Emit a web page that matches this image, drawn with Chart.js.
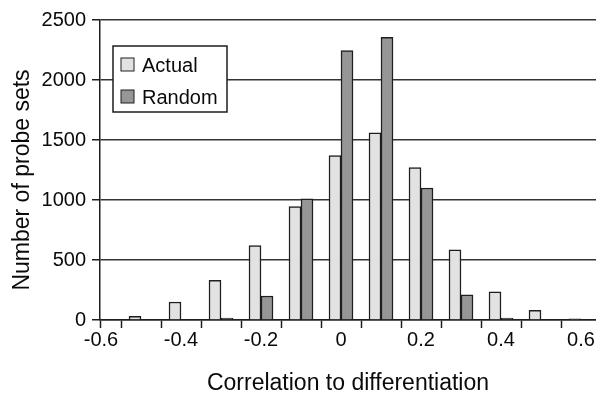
<!DOCTYPE html>
<html lang="en">
<head>
  <meta charset="UTF-8">
  <title>Correlation to differentiation</title>
  <script src="https://cdn.jsdelivr.net/npm/chart.js"></script>
  <style>
    body { margin: 0; background: #fff; }
    #wrap { width: 596px; height: 393px; position: relative; }
  </style>
</head>
<body>
  <div id="wrap"><canvas id="histChart"></canvas></div>

  <script>
    // bin centres on the correlation axis
    const bins = [-0.5, -0.4, -0.3, -0.2, -0.1, 0, 0.1, 0.2, 0.3, 0.4, 0.5, 0.6];
    // number of probe sets per bin
    const actual = [30, 150, 330, 620, 945, 1370, 1560, 1270, 585, 235, 80, 10];
    const random = [0, 0, 15, 200, 1010, 2245, 2355, 1100, 210, 15, 0, 0];
    // labelled x values and the small tick marks between bins
    const xLabels = [-0.6, -0.4, -0.2, 0, 0.2, 0.4, 0.6];
    const binEdges = [-0.55, -0.45, -0.35, -0.25, -0.15, -0.05, 0.05, 0.15, 0.25, 0.35, 0.45, 0.55];
    const yTicks = [0, 500, 1000, 1500, 2000, 2500];

    const xMin = -0.6025, xMax = 0.6375;
    const FONT = '"Liberation Sans", Arial, Helvetica, sans-serif';
    const INK = '#1e1e1e';
    const TEXT = '#0a0a0a';
    const yTitle = 'Number of probe sets';

    const isLabel = v => xLabels.some(l => Math.abs(l - v) < 1e-6);
    const fmt = v => Math.abs(v) < 1e-9 ? '0' : v.toFixed(1);

    // legend drawn inside the plot, boxed like the original
    const boxLegend = {
      id: 'boxLegend',
      afterDraw(chart) {
        const { ctx, chartArea } = chart;
        const x = chartArea.left + 13, y = chartArea.top + 26, w = 114, h = 66;
        ctx.save();
        ctx.fillStyle = '#fff';
        ctx.fillRect(x, y, w, h);
        ctx.strokeStyle = INK;
        ctx.lineWidth = 1.5;
        ctx.strokeRect(x, y, w, h);
        ctx.font = '20px ' + FONT;
        ctx.textBaseline = 'alphabetic';
        chart.data.datasets.forEach((ds, i) => {
          const rowY = y + 12 + i * 32;
          ctx.fillStyle = ds.backgroundColor;
          ctx.fillRect(x + 8, rowY, 13, 13);
          ctx.lineWidth = 1;
          ctx.strokeRect(x + 8, rowY, 13, 13);
          ctx.fillStyle = TEXT;
          ctx.fillText(ds.label, x + 29, rowY + 14);
        });

        // y axis title, sitting a little below the plot centre as in the original
        ctx.font = '23px ' + FONT;
        ctx.textAlign = 'center';
        ctx.textBaseline = 'middle';
        ctx.translate(23, (chartArea.top + chartArea.bottom) / 2 + 10);
        ctx.rotate(-Math.PI / 2);
        ctx.fillText(yTitle, 0, 0);
        ctx.restore();
      }
    };

    const ctx = document.getElementById('histChart').getContext('2d');

    const histChart = new Chart(ctx, {
      type: 'bar',
      data: {
        datasets: [{
          label: 'Actual',
          data: bins.map((b, i) => ({ x: b, y: actual[i] })),
          backgroundColor: '#e2e2e2',
          borderColor: INK,
          borderWidth: 1.5,
          barThickness: 12
        }, {
          label: 'Random',
          data: bins.map((b, i) => ({ x: b, y: random[i] })),
          backgroundColor: '#969696',
          borderColor: INK,
          borderWidth: 1.5,
          barThickness: 12
        }]
      },
      options: {
        responsive: true,
        maintainAspectRatio: false,
        animation: false,
        layout: { padding: { top: 20, right: 0, left: 0, bottom: 0 } },
        plugins: {
          legend: { display: false },
          tooltip: { enabled: false }
        },
        scales: {
          x: {
            type: 'linear',
            min: xMin,
            max: xMax,
            offset: false,
            afterBuildTicks: s => {
              s.ticks = [xMin, ...binEdges, ...xLabels].sort((a, b) => a - b).map(v => ({ value: v }));
            },
            afterFit: s => { s.height = 73; s.paddingLeft = 0; s.paddingRight = 0; },
            grid: {
              offset: false,
              drawOnChartArea: false,
              tickLength: 8,
              tickWidth: 1.5,
              tickColor: c => (c.tick && isLabel(c.tick.value)) ? 'rgba(0,0,0,0)' : INK
            },
            border: { color: INK, width: 1.5 },
            ticks: {
              autoSkip: false,
              maxRotation: 0,
              padding: 0,
              color: TEXT,
              font: { family: FONT, size: 20 },
              callback: v => isLabel(v) ? fmt(v) : ''
            },
            title: {
              display: true,
              text: 'Correlation to differentiation',
              color: TEXT,
              font: { family: FONT, size: 23, lineHeight: 1 },
              padding: { top: 0, bottom: -2 }
            }
          },
          y: {
            min: 0,
            max: 2500,
            afterBuildTicks: s => { s.ticks = yTicks.map(v => ({ value: v })); },
            afterFit: s => { s.width = 100; },
            grid: {
              color: '#333',
              lineWidth: 1.5,
              tickLength: 8,
              tickColor: INK,
              tickWidth: 1.5
            },
            border: { color: INK, width: 1.5 },
            ticks: {
              padding: 6,
              color: TEXT,
              font: { family: FONT, size: 20 },
              callback: v => String(v)
            }
          }
        }
      },
      plugins: [boxLegend]
    });
  </script>
</body>
</html>
